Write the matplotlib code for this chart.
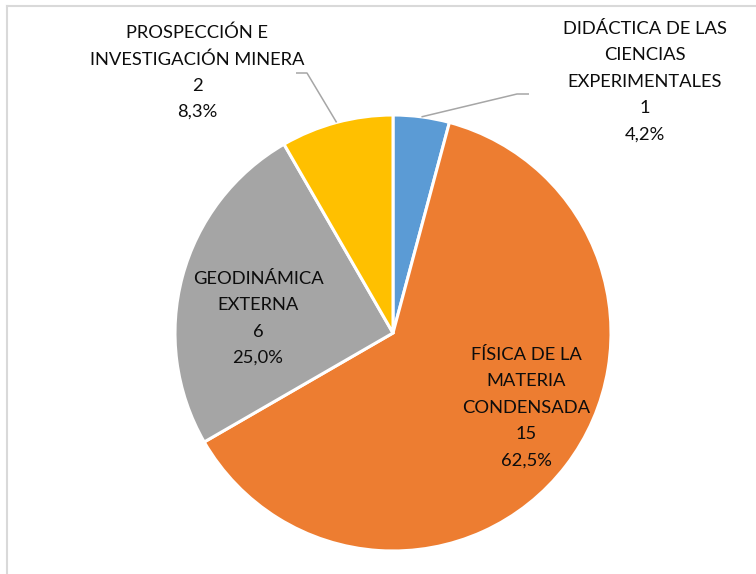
"""Pie chart: distribution by research line."""

import matplotlib
matplotlib.use("Agg")
import matplotlib.pyplot as plt
import numpy as np

categories = [
    "DIDÁCTICA DE LAS\nCIENCIAS\nEXPERIMENTALES",
    "FÍSICA DE LA\nMATERIA\nCONDENSADA",
    "GEODINÁMICA\nEXTERNA",
    "PROSPECCIÓN E\nINVESTIGACIÓN MINERA",
]
values = [1, 15, 6, 2]
colors = ["#5B9BD5", "#ED7D31", "#A5A5A5", "#FFC000"]

W, H = 756, 574
CX, CY, R = 393, 333, 218  # pixel coords, y downwards

# label anchor (center x, first line y) in pixel coords
label_pos = [(645, 29), (526, 355), (258, 279), (197, 33)]
# leader line bend points (None -> label sits inside slice)
leader_bends = [[(517, 94), (529, 94)], None, None, [(307, 73), (296, 73)]]
LINE_STEP = 26.3

plt.rcParams["font.family"] = ["Lato", "DejaVu Sans"]

fig = plt.figure(figsize=(W / 100, H / 100), dpi=100, facecolor="white")
ax = fig.add_axes([0, 0, 1, 1])


def py(y):
    return H - y


ax.pie(
    values,
    colors=colors,
    startangle=90,
    counterclock=False,
    center=(CX, py(CY)),
    radius=R,
    wedgeprops=dict(edgecolor="white", linewidth=2.2),
)
ax.set_xlim(0, W)
ax.set_ylim(0, H)
ax.set_aspect("auto")
ax.axis("off")

total = sum(values)
cum = 0
for idx, (cat, val) in enumerate(zip(categories, values)):
    mid = (cum + val / 2) / total * 2 * np.pi
    cum += val
    pct = f"{val / total * 100:.1f}".replace(".", ",") + "%"
    lines = cat.split("\n") + [str(val), pct]
    x0, y0 = label_pos[idx]
    for j, line in enumerate(lines):
        ax.text(x0, py(y0 + j * LINE_STEP), line, ha="center", va="center",
                fontsize=13.2, color="#0d0d0d")
    bend = leader_bends[idx]
    if bend is not None:
        sx = CX + R * np.sin(mid)
        sy = CY - R * np.cos(mid)
        pts = [(sx, sy)] + bend
        ax.plot([p[0] for p in pts], [py(p[1]) for p in pts],
                color="#A6A6A6", linewidth=1.1, solid_capstyle="butt")

# light frame (top and left edges visible)
ax.plot([7, W], [py(5.5), py(5.5)], color="#D9D9D9", linewidth=1.5)
ax.plot([7, 7], [py(5.5), 0], color="#D9D9D9", linewidth=1.5)

fig.savefig("out.png", dpi=100, facecolor="white")
